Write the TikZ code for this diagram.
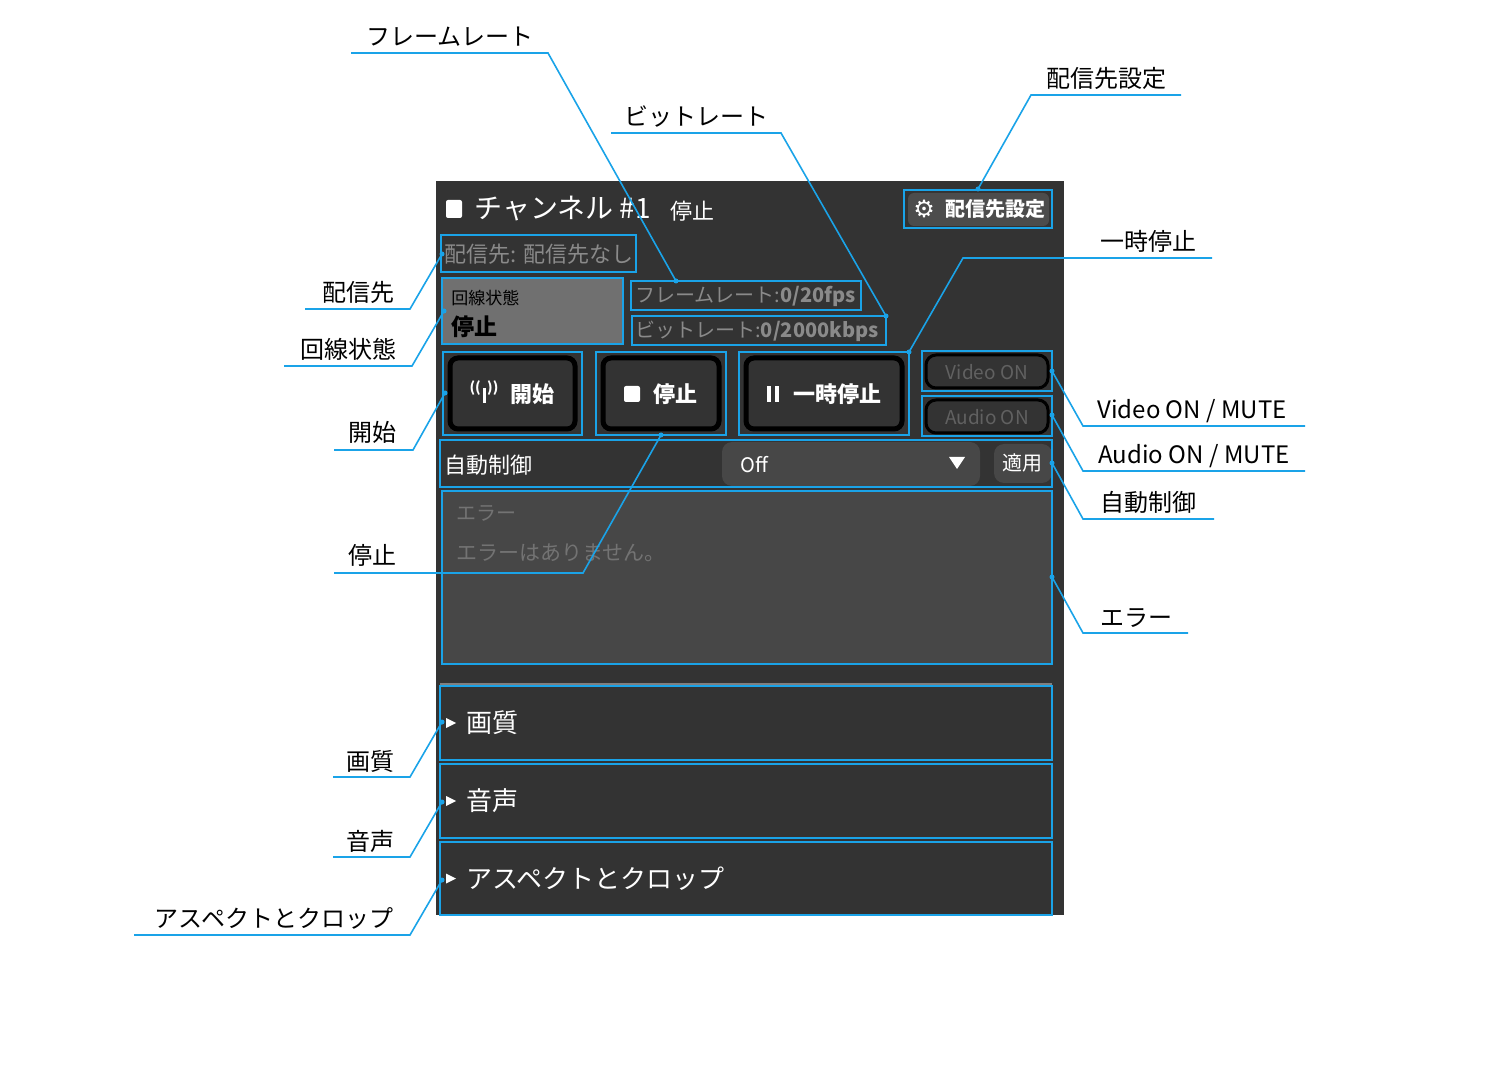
\documentclass[tikz,border=0pt]{standalone}
\usepackage{fontspec}
\setmainfont{Noto Sans CJK JP}
\newfontfamily\dv{DejaVu Sans}
\newcommand{\px}[1]{\fontsize{\dimexpr #1pt/2\relax}{\dimexpr #1pt*3/5\relax}\selectfont}
\definecolor{cb}{HTML}{1AA3E8}
\definecolor{pan}{HTML}{333333}
\definecolor{gtx}{HTML}{8A8A8A}
\tikzset{
 hl/.style={draw=cb,line width=1pt},
 co/.style={draw=cb,line width=0.8pt},
 dt/.style={fill=cb,circle,inner sep=0pt,minimum size=2.5pt},
 lab/.style={anchor=base,inner sep=0pt,font=\px{24}},
 btn/.style={draw=black,line width=2.5pt,fill=pan,rounded corners=4pt},
}
\begin{document}
\begin{tikzpicture}[x=0.5pt,y=-0.5pt]
\useasboundingbox (0,0) rectangle (1500,1080);
\fill[pan] (436,181) rectangle (1064,915);
% title
\fill[white,rounded corners=1pt] (446,200) rectangle (462,218);
\node[anchor=west,text=white,inner sep=0pt,font=\px{28}] (title) at (474,209) {チャンネル \#1};
\node[anchor=west,text=white,inner sep=0pt,font=\px{22}] (tst) at (670,211) {停止};
% dest settings
\fill[fill=black!70!white,rounded corners=3pt] (908,193) rectangle (1049,226);
\draw[hl] (904,190) rectangle (1052,228);
\node[text=white,inner sep=0pt,font=\dv\px{24}\bfseries] (gear) at (924,209) {⚙};
\node[anchor=west,text=white,inner sep=0pt,font=\px{20}\bfseries] (dset) at (945,209) {配信先設定};
% destination
\draw[hl] (441,235) rectangle (636,272);
\node[anchor=west,text=gtx,inner sep=0pt,font=\px{22}] (dst) at (444,254) {配信先: 配信先なし};
% line status
\fill[black!56] (442,278) rectangle (623,344);
\draw[hl] (442,278) rectangle (623,344);
\node[anchor=west,inner sep=0pt,font=\px{17}] (ls1) at (451,298) {回線状態};
\node[anchor=west,inner sep=0pt,font=\px{23}\bfseries] (ls2) at (451,327) {停止};
% rates
\draw[hl] (631,281) rectangle (861,310);
\node[anchor=west,text=gtx,inner sep=0pt,font=\px{20}] (fr) at (635,296) {フレームレート:\textbf{0/20fps}};
\draw[hl] (632,316) rectangle (886,345);
\node[anchor=west,text=gtx,inner sep=0pt,font=\px{20}] (br) at (635,331) {ビットレート:\textbf{0/2000kbps}};
% buttons
\draw[btn] (450,358) rectangle (575,429);
\draw[hl] (443,352) rectangle (582,435);
\draw[white,line width=1.5pt] (484,388) -- (484,403);
\node[text=white,font=\px{14}\bfseries,inner sep=0pt] (ant) at (484,388) {((\ \ ))};
\node[anchor=west,text=white,font=\px{22}\bfseries,inner sep=0pt] (bstart) at (510,394) {開始};
\draw[btn] (603,358) rectangle (719,429);
\draw[hl] (596,352) rectangle (726,435);
\fill[white,rounded corners=1pt] (624,386) rectangle (640,402);
\node[anchor=west,text=white,font=\px{22}\bfseries,inner sep=0pt] (bstop) at (653,394) {停止};
\draw[btn] (746,358) rectangle (902,429);
\draw[hl] (739,352) rectangle (909,435);
\fill[white] (767,386) rectangle (771,402); \fill[white] (775,386) rectangle (779,402);
\node[anchor=west,text=white,font=\px{22}\bfseries,inner sep=0pt] (bpause) at (793,394) {一時停止};
% video/audio
\draw[draw=black,line width=1.5pt,fill=pan,rounded corners=5pt] (926,355) rectangle (1048,388);
\draw[hl] (922,351) rectangle (1052,391);
\node[text=black!62,font=\px{19}] (vid) at (987,372) {Video ON};
\draw[draw=black,line width=1.5pt,fill=pan,rounded corners=5pt] (926,400) rectangle (1048,433);
\draw[hl] (922,396) rectangle (1052,436);
\node[text=black!62,font=\px{19}] (aud) at (987,417) {Audio ON};
% auto control
\fill[black!72,rounded corners=5pt] (722,442) rectangle (980,486);
\fill[black!72,rounded corners=5pt] (994,444) rectangle (1052,483);
\draw[hl] (440,440) rectangle (1052,487);
\node[anchor=west,text=white,inner sep=0pt,font=\px{22}] (auto) at (444,465) {自動制御};
\node[anchor=west,text=white,inner sep=0pt,font=\px{20}] (off) at (740,465) {Off};
\fill[white] (949,457) -- (965,457) -- (957,469) -- cycle;
\node[text=white,font=\px{20}] (apply) at (1022,463) {適用};
% error
\fill[black!72] (442,491) rectangle (1052,664);
\draw[hl] (442,491) rectangle (1052,664);
\node[anchor=west,text=black!55,inner sep=0pt,font=\px{20}] (e1) at (456,513) {エラー};
\node[anchor=west,text=black!55,inner sep=0pt,font=\px{21}] (e2) at (456,553) {エラーはありません。};
\draw[black!50,line width=1pt] (440,684) -- (1052,684);
% sections
\foreach \a/\b/\t/\n in {686/760/画質/sq,764/838/音声/sv,842/915/アスペクトとクロップ/sa}{
 \draw[hl] (440,\a) rectangle (1052,\b);
 \fill[white] (446,{(\a+\b)/2-5}) -- (456,{(\a+\b)/2}) -- (446,{(\a+\b)/2+5}) -- cycle;
 \node[anchor=west,text=white,inner sep=0pt,font=\px{26}] (\n) at (466,{(\a+\b)/2}) {\t};
}
% callouts
\node[lab] (l1) at (450,46) {フレームレート};
\draw[co] (351,53) -- (548,53) -- (676,281); \node[dt] (d1) at (676,281) {};
\node[lab] (l2) at (696,126) {ビットレート};
\draw[co] (611,133) -- (781,133) -- (886,316); \node[dt] (d2) at (886,316) {};
\node[lab] (l3) at (1106,88) {配信先設定};
\draw[co] (1181,95) -- (1031,95) -- (978,189); \node[dt] (d3) at (978,189) {};
\node[lab] (l4) at (1148,251) {一時停止};
\draw[co] (1212,258) -- (963,258) -- (909,352); \node[dt] (d4) at (909,352) {};
\node[lab] (l5) at (358,302) {配信先};
\draw[co] (305,309) -- (410,309) -- (442,254); \node[dt] (d5) at (442,254) {};
\node[lab] (l6) at (348,359) {回線状態};
\draw[co] (284,366) -- (412,366) -- (444,311); \node[dt] (d6) at (444,311) {};
\node[lab] (l7) at (372,442) {開始};
\draw[co] (334,450) -- (413,450) -- (445,393); \node[dt] (d7) at (445,393) {};
\node[lab] (l8) at (372,565) {停止};
\draw[co] (334,573) -- (583,573) -- (661,435); \node[dt] (d8) at (661,435) {};
\node[lab] (l9) at (1192,419) {Video ON / MUTE};
\draw[co] (1052,371) -- (1083,426) -- (1305,426); \node[dt] (d9) at (1052,371) {};
\node[lab] (l10) at (1194,464) {Audio ON / MUTE};
\draw[co] (1052,415) -- (1083,471) -- (1305,471); \node[dt] (d10) at (1052,415) {};
\node[lab] (l11) at (1148,512) {自動制御};
\draw[co] (1052,463) -- (1083,519) -- (1214,519); \node[dt] (d11) at (1052,463) {};
\node[lab] (l12) at (1136,626) {エラー};
\draw[co] (1052,577) -- (1083,633) -- (1188,633); \node[dt] (d12) at (1052,577) {};
\node[lab] (l13) at (370,770) {画質};
\draw[co] (333,777) -- (410,777) -- (442,722); \node[dt] (d13) at (442,722) {};
\node[lab] (l14) at (370,850) {音声};
\draw[co] (333,857) -- (410,857) -- (442,802); \node[dt] (d14) at (442,802) {};
\node[lab] (l15) at (274,927) {アスペクトとクロップ};
\draw[co] (134,935) -- (410,935) -- (442,880); \node[dt] (d15) at (442,880) {};
\end{tikzpicture}
\end{document}
